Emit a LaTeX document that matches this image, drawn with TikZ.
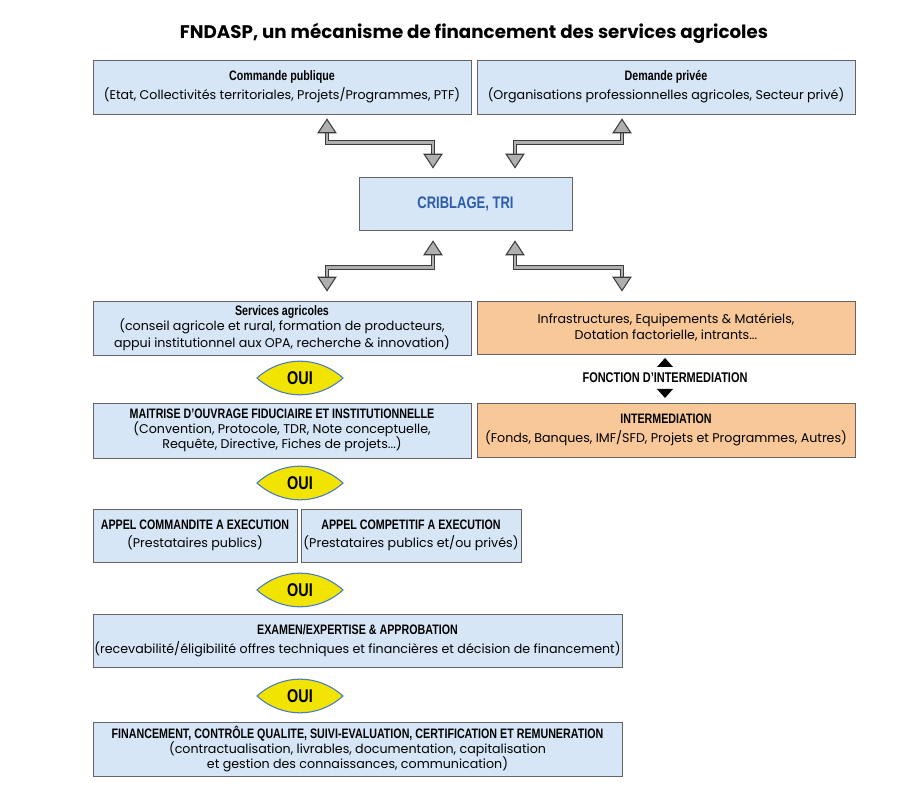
\documentclass[tikz,border=0pt]{standalone}
\usepackage{fontspec}
\setmainfont{Poppins}
\newfontfamily\condfont{Liberation Sans}[FakeStretch=0.78]
\usepackage{tikz}
\usetikzlibrary{arrows.meta, calc}
\definecolor{boxblue}   {RGB}{214, 230, 246}
\definecolor{boxorange} {RGB}{248, 200, 152}
\definecolor{boxline}   {RGB}{100, 100, 100}
\definecolor{cribblue}  {RGB}{ 45,  92, 172}
\definecolor{ouiyellow} {RGB}{240, 228,   0}
\definecolor{ouiline}   {RGB}{ 72, 122, 192}
\definecolor{arrowgray} {RGB}{175, 175, 175}
\definecolor{arrowline} {RGB}{ 60,  60,  60}
\newcommand{\hd}[1]{{\condfont\bfseries\fontsize{7.8}{8.6}\selectfont #1}}
\tikzset{
	box/.style={draw=boxline, fill=boxblue, align=center, inner sep=0pt,
		font=\fontsize{7.2}{8.6}\selectfont},
	obox/.style={box, fill=boxorange},
	lens/.style={draw=ouiline, fill=ouiyellow, line width=0.6pt},
	ouitext/.style={font=\condfont\bfseries\fontsize{10.5}{11}\selectfont, inner sep=0pt},
	dblarrow/.style={double=arrowgray, double distance=1.5pt, line width=0.6pt, draw=arrowline,
		{Triangle[length=8.5pt, width=11pt, fill=arrowgray]}-{Triangle[length=8.5pt, width=11pt, fill=arrowgray]}},
}

\begin{document}
\begin{tikzpicture}[x=0.2mm, y=-0.2mm]
	\useasboundingbox (0,0) rectangle (913,791);
	\node (title) at (474,33) {\bfseries\fontsize{10.4}{12}\selectfont FNDASP, un mécanisme de financement des services agricoles};

	\node[box, minimum width=75.6mm, minimum height=10.8mm] (cmd) at (282,87)
		{\hd{Commande publique}\\[2pt](Etat, Collectivités territoriales, Projets/Programmes, PTF)};
	\node[box, minimum width=75.6mm, minimum height=10.8mm] (dem) at (666,87)
		{\hd{Demande privée}\\[2pt](Organisations professionnelles agricoles, Secteur privé)};
	\node[box, minimum width=42.6mm, minimum height=10.6mm, text=cribblue,
		font=\condfont\bfseries\fontsize{9.5}{10}\selectfont] (crib) at (465.5,203.5) {CRIBLAGE, TRI};

	\node[box, minimum width=75.6mm, minimum height=10.8mm] (serv) at (282,328)
		{\hd{Services agricoles}\\(conseil agricole et rural, formation de producteurs,\\appui institutionnel aux OPA, recherche \& innovation)};
	\node[obox, minimum width=75.6mm, minimum height=10.6mm] (infra) at (666,327.5)
		{Infrastructures, Equipements \& Matériels,\\[1pt]Dotation factorielle, intrants...};
	\node[box, minimum width=75.6mm, minimum height=11mm] (maitr) at (282,430.5)
		{\hd{MAITRISE D’OUVRAGE FIDUCIAIRE ET INSTITUTIONNELLE}\\(Convention, Protocole, TDR, Note conceptuelle,\\Requête, Directive, Fiches de projets...)};
	\node[obox, minimum width=75.6mm, minimum height=10.8mm] (inter) at (666,430)
		{\hd{INTERMEDIATION}\\[2pt](Fonds, Banques, IMF/SFD, Projets et Programmes, Autres)};
	\node[font=\condfont\bfseries\fontsize{8}{9}\selectfont, inner sep=0pt] (fonc) at (665,378) {FONCTION D’INTERMEDIATION};
	\fill ($(fonc)+(-8,-11)$) -- ($(fonc)+(8,-11)$) -- ($(fonc)+(0,-20)$) -- cycle;
	\fill ($(fonc)+(-8,11)$) -- ($(fonc)+(8,11)$) -- ($(fonc)+(0,20)$) -- cycle;

	\node[box, minimum width=40.8mm, minimum height=10.6mm] (appc) at (195,535.5)
		{\hd{APPEL COMMANDITE A EXECUTION}\\[2pt](Prestataires publics)};
	\node[box, minimum width=44mm, minimum height=10.6mm] (appk) at (411,535.5)
		{\hd{APPEL COMPETITIF A EXECUTION}\\[2pt](Prestataires publics et/ou privés)};
	\node[box, minimum width=105.8mm, minimum height=10.6mm] (exam) at (357.5,641)
		{\hd{EXAMEN/EXPERTISE \& APPROBATION}\\[2pt](recevabilité/éligibilité offres techniques et financières et décision de financement)};
	\node[box, minimum width=105.8mm, minimum height=10.8mm] (fin) at (357.5,749)
		{\hd{FINANCEMENT, CONTRÔLE QUALITE, SUIVI-EVALUATION, CERTIFICATION ET REMUNERATION}\\(contractualisation, livrables, documentation, capitalisation\\et gestion des connaissances, communication)};

	\foreach \n/\y in {1/378,2/483,3/590,4/696}{
		\filldraw[lens] (257,\y) to[bend left=42] (343,\y) to[bend left=42] cycle;
		\node[ouitext] (oui\n) at (300,\y) {OUI};
	}

	\draw[dblarrow] ($(cmd.south)+(45,4)$) -- ++(0,24) -| ($(crib.north)+(-32.5,-8)$);
	\draw[dblarrow] ($(dem.south)+(-44,4)$) -- ++(0,24) -| ($(crib.north)+(49.5,-8)$);
	\draw[dblarrow] ($(crib.south)+(-32.5,10)$) -- ++(0,27) -| ($(serv.north)+(45,-9)$);
	\draw[dblarrow] ($(crib.south)+(49.5,10)$) -- ++(0,27) -| ($(infra.north)+(-44,-9)$);
\end{tikzpicture}
\end{document}
